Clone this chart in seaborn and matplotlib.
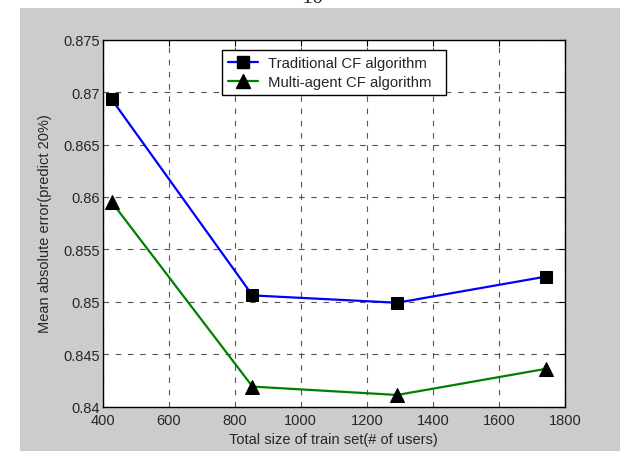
import matplotlib
matplotlib.use('Agg')
import matplotlib.pyplot as plt
import matplotlib.ticker as mticker
from matplotlib.patches import Rectangle
from matplotlib.lines import Line2D
import pandas as pd
import seaborn as sns

# values
train_size = [428, 854, 1292, 1743]
traditional_mae = [0.8693, 0.8506, 0.8499, 0.8524]
multiagent_mae = [0.8595, 0.8419, 0.8411, 0.8436]
series_names = ['Traditional CF algorithm', 'Multi-agent CF algorithm']
x_ticks = [400, 600, 800, 1000, 1200, 1400, 1600, 1800]
y_ticks = [0.84, 0.845, 0.85, 0.855, 0.86, 0.865, 0.87, 0.875]

df_trad = pd.DataFrame({'size': train_size, 'mae': traditional_mae})
df_multi = pd.DataFrame({'size': train_size, 'mae': multiagent_mae})

sns.set_style('white')
plt.rcParams['font.family'] = ['Liberation Sans', 'DejaVu Sans']
plt.rcParams['xtick.direction'] = 'in'
plt.rcParams['ytick.direction'] = 'in'

fig = plt.figure(figsize=(6.2, 4.52), dpi=100, facecolor='white')
# grey MATLAB-style figure background (page is white above/left of it)
fig.patches.append(Rectangle((20 / 620, 0), 600 / 620, 1 - 9 / 452,
                             transform=fig.transFigure, facecolor='#cccccc',
                             edgecolor='none', zorder=-10))
fig.text(0.503, 1 - 3 / 452, '10', ha='center', va='baseline',
         family='Liberation Serif', fontsize=16)

ax = fig.add_axes([102.5 / 620, 1 - 407.5 / 452, 462.5 / 620, 366.8 / 452])
ax.set_facecolor('white')

sns.lineplot(data=df_trad, x='size', y='mae', ax=ax, color='#0000ff',
             linewidth=1.6, marker='s', markersize=9,
             markerfacecolor='black', markeredgecolor='black', zorder=3)
sns.lineplot(data=df_multi, x='size', y='mae', ax=ax, color='#008000',
             linewidth=1.6, marker='^', markersize=10,
             markerfacecolor='black', markeredgecolor='black', zorder=3)

ax.set_xlim(400, 1800)
ax.set_ylim(0.84, 0.875)
ax.set_xticks(x_ticks)
ax.set_yticks(y_ticks)
ax.yaxis.set_major_formatter(mticker.FormatStrFormatter('%g'))
ax.tick_params(axis='both', labelsize=10.5, length=4, width=0.8,
               top=True, right=True, color='black', pad=2)
ax.tick_params(axis='x', pad=5)

ax.grid(True, color='#555555', linestyle=(0, (5, 6)), linewidth=0.8)
for s in ax.spines.values():
    s.set_visible(True)
    s.set_color('black')
    s.set_linewidth(1)

ax.set_xlabel('Total size of train set(# of users)', fontsize=10.5, labelpad=3)
ax.set_ylabel('Mean absolute error(predict 20%)', fontsize=10.5, labelpad=8)

handles = [
    Line2D([], [], color='#0000ff', linewidth=1.6, marker='s', markersize=9,
           markerfacecolor='black', markeredgecolor='black'),
    Line2D([], [], color='#008000', linewidth=1.6, marker='^', markersize=10,
           markerfacecolor='black', markeredgecolor='black'),
]
# legend box spans x 222..446 px, top at 51 px
leg = ax.legend(handles, series_names, loc='upper left', mode='expand',
                bbox_to_anchor=((222 - 102.5) / 462.5, (407.5 - 51) / 366.8,
                                224 / 462.5, 0),
                borderaxespad=0, fontsize=10.7, fancybox=False,
                edgecolor='black', framealpha=1, handlelength=2.0,
                handletextpad=0.7, labelspacing=0.35, borderpad=0.4)
leg.get_frame().set_linewidth(1)

fig.savefig('out.png', dpi=100, facecolor='white')
